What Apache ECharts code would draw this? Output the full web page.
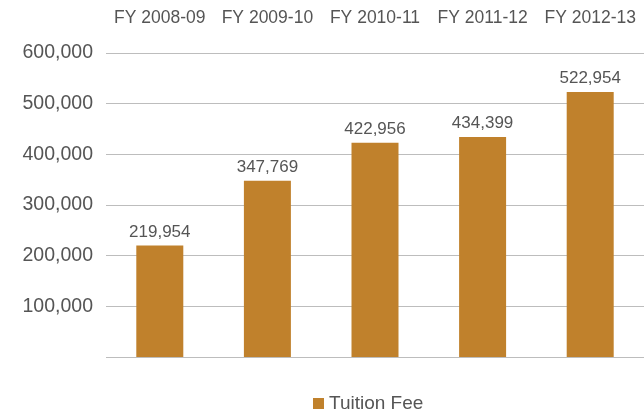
<!DOCTYPE html>
<html>
<head>
<meta charset="utf-8">
<script src="https://cdn.jsdelivr.net/npm/echarts@6/dist/echarts.min.js"></script>
<style>
  html, body { margin: 0; padding: 0; background: #fff; }
  #chart-container { width: 644px; height: 413px; }
</style>
</head>
<body>
<div id="chart-container"></div>
<script>
const years = ['FY 2008-09', 'FY 2009-10', 'FY 2010-11', 'FY 2011-12', 'FY 2012-13'];
const tuitionFee = [219954, 347769, 422956, 434399, 522954];
const seriesName = 'Tuition Fee';

const fmt = (v) => v.toLocaleString('en-US');

const start = () => {
  const chartDom = document.getElementById('chart-container');
  const myChart = echarts.init(chartDom, null, { renderer: 'canvas' });
  const textColor = '#555555';
  const option = {
    animation: false,
    textStyle: { fontFamily: 'Liberation Sans, Arial, sans-serif' },
    grid: { left: 106, right: -4, top: 53, bottom: 56 },
    legend: {
      left: 308,
      top: 389,
      itemWidth: 11,
      itemHeight: 11,
      itemGap: 6,
      icon: 'rect',
      textStyle: { color: textColor, fontSize: 19 },
      data: [seriesName]
    },
    xAxis: {
      type: 'category',
      position: 'top',
      data: years,
      axisLine: { show: false },
      axisTick: { show: false },
      axisLabel: { color: textColor, fontSize: 17.5, margin: 26, interval: 0, hideOverlap: false }
    },
    yAxis: {
      type: 'value',
      min: 0,
      max: 600000,
      interval: 100000,
      axisLine: { show: false },
      axisTick: { show: false },
      axisLabel: {
        color: textColor,
        fontSize: 19.5,
        margin: 13,
        formatter: (v) => (v === 0 ? '' : fmt(v))
      },
      splitLine: { lineStyle: { color: '#bdbdbd', width: 1 } }
    },
    series: [
      {
        name: seriesName,
        type: 'bar',
        data: tuitionFee,
        barWidth: 47,
        itemStyle: { color: '#c0812c' },
        label: {
          show: true,
          position: 'top',
          distance: 5,
          color: textColor,
          fontSize: 17,
          formatter: (p) => fmt(p.value)
        }
      }
    ]
  };
  myChart.setOption(option);
};

start();
</script>
</body>
</html>
